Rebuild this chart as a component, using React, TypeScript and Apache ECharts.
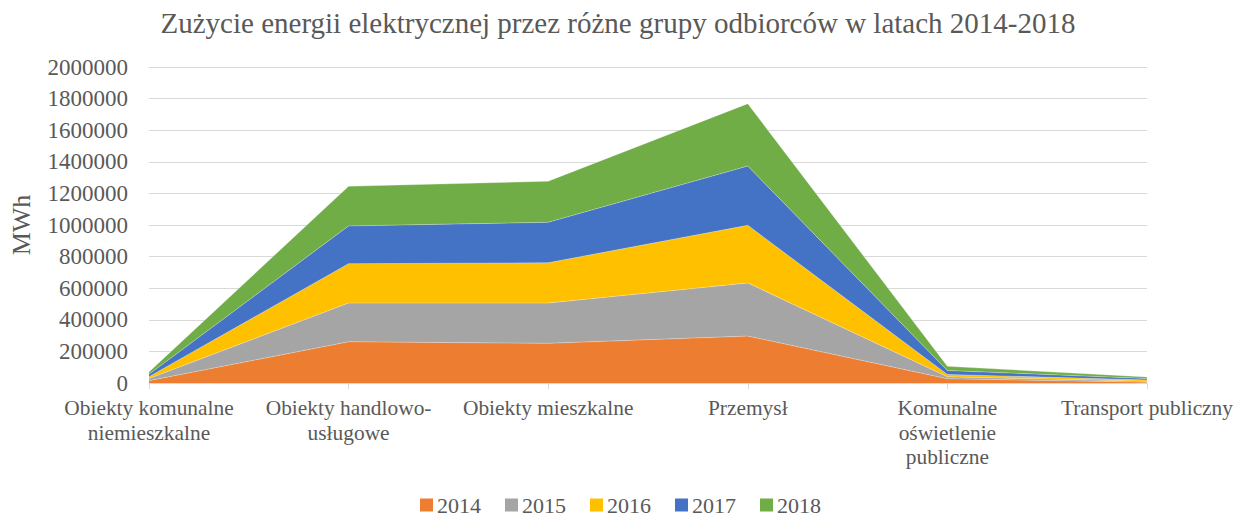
import React, { useEffect, useRef } from "react";
import * as echarts from "echarts";

const categories = [
  "Obiekty komunalne\nniemieszkalne",
  "Obiekty handlowo-\nusługowe",
  "Obiekty mieszkalne",
  "Przemysł",
  "Komunalne\noświetlenie\npubliczne",
  "Transport publiczny",
];
const years = ["2014", "2015", "2016", "2017", "2018"];
const v2014 = [15000, 261000, 251000, 297000, 27000, 5000];
const v2015 = [13000, 245000, 255000, 336000, 12000, 6000];
const v2016 = [12000, 249000, 255000, 365000, 15000, 8000];
const v2017 = [15000, 239000, 256000, 375000, 25000, 9000];
const v2018 = [15000, 251000, 260000, 395000, 27000, 10000];
const seriesValues = [v2014, v2015, v2016, v2017, v2018];
const colors = ["#ED7D31", "#A5A5A5", "#FFC000", "#4472C4", "#70AD47"];

const FONT = "Times New Roman, Liberation Serif, DejaVu Serif, serif";
const TXT = "#595959";

export default function App() {
  const ref = useRef<HTMLDivElement>(null);
  useEffect(() => {
    if (!ref.current) return;
    const chart = echarts.init(ref.current, undefined, { renderer: "svg" });
    chart.setOption({
      animation: false,
      textStyle: { fontFamily: FONT },
      title: {
        text: "Zużycie energii elektrycznej przez różne grupy odbiorców w latach 2014-2018",
        left: "center",
        top: 3,
        textStyle: { fontFamily: FONT, fontSize: 29, fontWeight: "normal", color: TXT },
      },
      legend: {
        top: 494,
        left: 420,
        padding: 0,
        itemWidth: 13,
        itemHeight: 13,
        itemGap: 24,
        icon: "rect",
        textStyle: {
          fontFamily: FONT,
          fontSize: 22,
          lineHeight: 20,
          color: TXT,
          padding: [0, 0, 0, -1],
        },
        data: years,
      },
      grid: { left: 148, right: 88, top: 67, bottom: 136, containLabel: false },
      xAxis: {
        type: "category",
        data: categories,
        boundaryGap: false,
        axisLine: { lineStyle: { color: "#D9D9D9", width: 1 } },
        axisTick: { show: true, alignWithLabel: true, length: 6, lineStyle: { color: "#D9D9D9" } },
        axisLabel: {
          interval: 0,
          margin: 13,
          fontFamily: FONT,
          fontSize: 21.4,
          lineHeight: 24.5,
          color: TXT,
        },
      },
      yAxis: {
        type: "value",
        min: 0,
        max: 2000000,
        interval: 200000,
        name: "MWh",
        nameLocation: "middle",
        nameGap: 115,
        nameRotate: 90,
        nameTextStyle: { fontFamily: FONT, fontSize: 26, color: TXT },
        axisLine: { show: false },
        axisTick: { show: false },
        axisLabel: {
          fontFamily: FONT,
          fontSize: 23,
          color: TXT,
          margin: 21,
          formatter: (v: number) => String(v),
        },
        splitLine: { lineStyle: { color: "#D9D9D9", width: 1 } },
      },
      series: years.map((y, i) => ({
        name: y,
        type: "line",
        stack: "total",
        data: seriesValues[i],
        showSymbol: false,
        symbol: "none",
        lineStyle: { width: 0.5, color: "rgba(255,255,255,0.6)" },
        areaStyle: { color: colors[i], opacity: 1 },
        itemStyle: { color: colors[i] },
      })),
    });
    return () => chart.dispose();
  }, []);
  return (
    <div
      ref={ref}
      style={{ position: "fixed", left: 0, top: 0, width: 1236, height: 519, background: "#fff" }}
    />
  );
}
